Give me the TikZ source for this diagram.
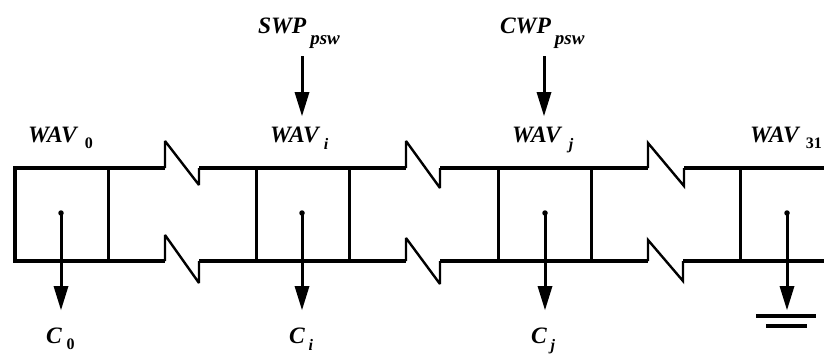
\documentclass[tikz,border=0pt]{standalone}
\usepackage{fontspec}
\setmainfont{Liberation Serif}
\usetikzlibrary{arrows.meta}
\newcommand{\lbl}[4]{\fontsize{23.5}{23.5}\selectfont\bfseries\itshape #1\hspace{#2pt}\raisebox{-#3pt}{\fontsize{16}{16}\selectfont #4}}
\newcommand{\lblu}[4]{\fontsize{23.5}{23.5}\selectfont\bfseries\itshape #1\hspace{#2pt}\raisebox{-#3pt}{\fontsize{16}{16}\selectfont\upshape #4}}
\newcommand{\lblp}[4]{\fontsize{23.5}{23.5}\selectfont\bfseries\itshape #1\hspace{#2pt}\raisebox{-#3pt}{\fontsize{19}{19}\selectfont #4}}
\tikzset{
  x=1pt,y=-1pt,
  wire/.style={line width=3.4pt,line join=miter,miter limit=3,line cap=butt},
  zig/.style={line width=2.4pt,line join=miter,miter limit=3},
  rung/.style={line width=3pt},
  drop/.style={line width=3pt,-{Triangle[length=24pt,width=15pt,line width=0pt]}},
  dotend/.style={circle,fill=black,inner sep=0pt,minimum size=5.5pt},
  lab/.style={anchor=base west,inner sep=0pt,outer sep=0pt},
  gnd/.style={line width=3.4pt},
  feed/.style={line width=3pt,-{Triangle[length=24pt,width=15pt,line width=0pt]}}
}
\begin{document}
\begin{tikzpicture}
\useasboundingbox (0,0) rectangle (824,356);
\clip (0,0) rectangle (824,356);
% rails and the left end
\foreach \n/\x/\yt/\yb in {a/108/168/261,b/256/168/261,c/349/168/261,d/498/168/261,e/591/168/261,f/740/168/261}{
  \coordinate (\n t) at (\x,\yt);
  \coordinate (\n b) at (\x,\yb);
}
\coordinate (lt) at (15,168);
\coordinate (lb) at (15,261);
\coordinate (rt) at (824,168);
\coordinate (rb) at (824,261);
\draw[wire] (at) -- (lt) -- (lb) -- (ab);
% top rail with breaks
\draw[wire] (at) -- (165,168);
\draw[zig] (165,168) -- (165,141) -- (199,185) -- (199,168);
\draw[wire] (199,168) -- (bt) -- (ct) -- (406,168);
\draw[zig] (406,168) -- (406,141) -- (440,188) -- (440,168);
\draw[wire] (440,168) -- (dt) -- (et) -- (648,168);
\draw[zig] (648,168) -- (648,143) -- (684,186) -- (684,168);
\draw[wire] (684,168) -- (ft) -- (rt);
% bottom rail with breaks
\draw[wire] (ab) -- (165,261);
\draw[zig] (165,261) -- (165,235) -- (199,283) -- (199,261);
\draw[wire] (199,261) -- (bb) -- (cb) -- (406,261);
\draw[zig] (406,261) -- (406,238) -- (440,284) -- (440,261);
\draw[wire] (440,261) -- (db) -- (eb) -- (648,261);
\draw[zig] (648,261) -- (648,240) -- (683,281) -- (683,261);
\draw[wire] (683,261) -- (fb) -- (rb);
% rungs
\foreach \n in {a,b,c,d,e,f}{\draw[rung] (\n t) -- (\n b);}
% bit-line tap arrows
\foreach \n/\x in {p/61,q/302,r/545,s/787}{
  \node[dotend] (\n) at (\x,213) {};
  \coordinate (\n e) at (\x,310);
  \draw[drop] (\n.center) -- (\n e);
}
% ground
\coordinate (g1) at (756,316); \coordinate (g2) at (816,316);
\coordinate (g3) at (766,326); \coordinate (g4) at (807,326);
\draw[gnd] (g1) -- (g2);
\draw[gnd] (g3) -- (g4);
% top feeds
\coordinate (f1a) at (302,56); \coordinate (f1b) at (302,116);
\coordinate (f2a) at (544,56); \coordinate (f2b) at (544,116);
\draw[feed] (f1a) -- (f1b);
\draw[feed] (f2a) -- (f2b);
% labels
\node[lab] (w0) at (28,142) {\lblu{WAV}{8}{6}{0}};
\node[lab] (wi) at (270,142) {\lbl{WAV}{5}{7}{i}};
\node[lab] (wj) at (512,142) {\lbl{WAV}{8}{7}{j}};
\node[lab] (w31) at (750,142) {\lblu{WAV}{7}{6}{31}};
\node[lab] (c0) at (46,343) {\lblu{C}{5}{6}{0}};
\node[lab] (ci) at (289,343) {\lbl{C}{4}{7}{i}};
\node[lab] (cj) at (531,343) {\lbl{C}{4}{7}{j}};
\node[lab] (sw) at (258,33) {\lblp{SWP}{4}{11}{psw}};
\node[lab] (cw) at (500,33) {\lblp{CWP}{4}{11}{psw}};
\end{tikzpicture}
\end{document}
